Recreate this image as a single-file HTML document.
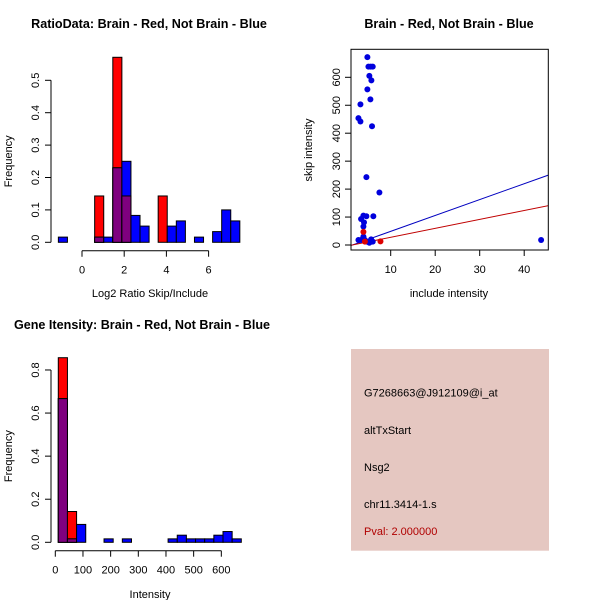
<!DOCTYPE html>
<html><head><meta charset="utf-8"><style>
body{margin:0;background:#fff}
svg{display:block;font-family:"Liberation Sans",sans-serif}
</style></head><body>
<svg id="c" width="600" height="600" viewBox="0 0 600 600"></svg>
<script>
// ---- Panel 1: ratio histogram ----
const ratioBinStart = -1.12;
const ratioBinWidth = 0.43;
const ratioRed  = [0,0,0,0,0.143,0,0.571,0.143,0,0,0,0.143,0,0,0,0,0,0,0,0];
const ratioBlue = [0.016,0,0,0,0.016,0.016,0.23,0.25,0.083,0.05,0,0,0.05,0.066,0,0.016,0,0.033,0.1,0.066];
const ratioXTicks = [0,2,4,6];
const ratioYTicks = [0,0.1,0.2,0.3,0.4,0.5];
// ---- Panel 2: scatter ----
const blueX = [4.76,5.0,5.5,5.96,5.2,5.66,4.76,3.2,5.44,2.75,3.2,5.8,4.54,7.46,3.87,4.54,6.1,3.34,4.0,3.87,43.8,2.75,3.34,3.87,4.2,4.6,5.2,5.6,5.96];
const blueY = [672,638,638,638,605,589,557,503,521,454,442,425,243,188,105,103,103,93,81,66,18,18,18,30,18,12,8,20,12];
const redX = [3.87,7.7,4.2];
const redY = [47,13,12];
const blueFit = [-8,5.68];   // intercept, slope
const redFit = [-4.5,3.2];
const scatXTicks = [10,20,30,40];
const scatYTicks = [0,100,200,300,400,500,600];
// ---- Panel 3: intensity histogram ----
const intBinStart = 10.8;
const intBinWidth = 33.07;
const intRed  = [0.857,0.143,0,0,0,0,0,0,0,0,0,0,0,0,0,0,0,0,0,0];
const intBlue = [0.667,0.016,0.083,0,0,0.016,0,0.016,0,0,0,0,0.016,0.033,0.016,0.016,0.016,0.033,0.05,0.016];
const intXTicks = [0,100,200,300,400,500,600];
const intYTicks = [0,0.2,0.4,0.6,0.8];

const svg = document.getElementById('c');
const NS = 'http://www.w3.org/2000/svg';
function mk(tag, attrs, parent){
  const e = document.createElementNS(NS, tag);
  for (const k in attrs) e.setAttribute(k, attrs[k]);
  (parent||svg).appendChild(e);
  return e;
}
function txt(s, x, y, opts, parent){
  const t = mk('text', Object.assign({x:x, y:y, 'font-size':11, 'text-anchor':'middle', fill:'#000'}, opts||{}), parent);
  t.textContent = s;
  return t;
}

function hist(name, xs, ys, start, w, red, blue, xt, yt, xLineY, xlabel, xlabY, title, titleX, titleY){
  const g = mk('g', {});
  
  
  for (let i = 0; i < red.length; i++){
    const x0 = xs(start + i*w), x1 = xs(start + (i+1)*w);
    const r = red[i], b = blue[i], m = Math.min(r, b);
    if (r > 0){
      const e = mk('rect', {x:x0, y:ys(r), width:x1-x0, height:ys(0)-ys(r), fill:'#ff0000', stroke:'#000', 'stroke-width':1}, g);
      
      
    }
    if (b > 0){
      const e = mk('rect', {x:x0, y:ys(b), width:x1-x0, height:ys(0)-ys(b), fill:'#0000ff', stroke:'#000', 'stroke-width':1}, g);
      
      
    }
    if (m > 0){
      const e = mk('rect', {x:x0, y:ys(m), width:x1-x0, height:ys(0)-ys(m), fill:'#7f007f', stroke:'#000', 'stroke-width':1}, g);
      
      
    }
  }
  const xa = mk('g', {}, g);
  
  
  mk('line', {x1:xs(xt[0]), x2:xs(xt[xt.length-1]), y1:xLineY, y2:xLineY, stroke:'#000'}, xa);
  xt.forEach(v => {
    mk('line', {x1:xs(v), x2:xs(v), y1:xLineY, y2:xLineY+6, stroke:'#000'}, xa);
    txt(String(v), xs(v), xLineY+23, {}, xa);
  });
  const ya = mk('g', {}, g);
  
  
  mk('line', {x1:51, x2:51, y1:ys(yt[0]), y2:ys(yt[yt.length-1]), stroke:'#000'}, ya);
  yt.forEach(v => {
    mk('line', {x1:45, x2:51, y1:ys(v), y2:ys(v), stroke:'#000'}, ya);
    txt(v.toFixed(1), 0, 0, {transform:'translate(39,'+ys(v)+') rotate(-90)'}, ya);
  });
  const xl = txt(xlabel, 150, xlabY, {}, g);
  
  
  const yl = txt('Frequency', 0, 0, {transform:'translate(12,'+(ys(0)+ys(yt[yt.length-1]))/2+') rotate(-90)'}, g);
  
  
  const tt = txt(title, titleX, titleY, {'font-weight':'bold', 'font-size':12.6}, g);
  
  
}

const xs1 = v => 82 + v*21.1;
const ys1 = v => 242.3 - v*324;
hist('ratio-histogram', xs1, ys1, ratioBinStart, ratioBinWidth, ratioRed, ratioBlue, ratioXTicks, ratioYTicks, 250.7, 'Log2 Ratio Skip/Include', 297, 'RatioData: Brain - Red, Not Brain - Blue', 149, 28);

const xs3 = v => 55.3 + v*0.2767;
const ys3 = v => 542.3 - v*215.4;
hist('intensity-histogram', xs3, ys3, intBinStart, intBinWidth, intRed, intBlue, intXTicks, intYTicks, 550.7, 'Intensity', 598, 'Gene Itensity: Brain - Red, Not Brain - Blue', 142, 329);

const xs2 = v => 346.2 + v*4.45;
const ys2 = v => 245 - v*0.2795;
const sg = mk('g', {});


const clip = mk('clipPath', {id:'sc'}, sg);
mk('rect', {x:351, y:49.3, width:197.3, height:200.7}, clip);
const lineG = mk('g', {'clip-path':'url(#sc)'}, sg);
[[blueFit,'#0000c0','blue-fit-line'],[redFit,'#c00000','red-fit-line']].forEach(([f,c,n]) => {
  const l = mk('line', {x1:xs2(0), y1:ys2(f[0]), x2:xs2(50), y2:ys2(f[0]+f[1]*50), stroke:c, 'stroke-width':1}, lineG);
  
  
});
blueX.forEach((x,i) => {
  const p = mk('circle', {cx:xs2(x), cy:ys2(blueY[i]), r:3, fill:'#0000dd'}, sg);
  
  
});
redX.forEach((x,i) => {
  const p = mk('circle', {cx:xs2(x), cy:ys2(redY[i]), r:3, fill:'#dd0000'}, sg);
  
  
});
const box = mk('rect', {x:351, y:49.3, width:197.3, height:200.7, fill:'none', stroke:'#000'}, sg);


scatXTicks.forEach(v => {
  mk('line', {x1:xs2(v), x2:xs2(v), y1:250, y2:256, stroke:'#000'}, sg);
  txt(String(v), xs2(v), 273, {}, sg);
});
scatYTicks.forEach(v => {
  mk('line', {x1:345, x2:351, y1:ys2(v), y2:ys2(v), stroke:'#000'}, sg);
  txt(String(v), 0, 0, {transform:'translate(340,'+ys2(v)+') rotate(-90)'}, sg);
});
const sx = txt('include intensity', 449, 297, {}, sg);


const sy = txt('skip intensity', 0, 0, {transform:'translate(312,150) rotate(-90)'}, sg);


const st = txt('Brain - Red, Not Brain - Blue', 449, 28, {'font-weight':'bold','font-size':12.6}, sg);



const ig = mk('g', {});


mk('rect', {x:351, y:349, width:198, height:201.7, fill:'#e5c7c1'}, ig);
[['G7268663@J912109@i_at',396.7,'#000','probe-id'],['altTxStart',434,'#000','event-type'],['Nsg2',471,'#000','gene-name'],['chr11.3414-1.s',508,'#000','location'],['Pval: 2.000000',535,'#b00000','p-value']].forEach(([s,y,c,n]) => {
  const t = txt(s, 364, y, {'text-anchor':'start', fill:c}, ig);
  
  
});
</script>
</body></html>
